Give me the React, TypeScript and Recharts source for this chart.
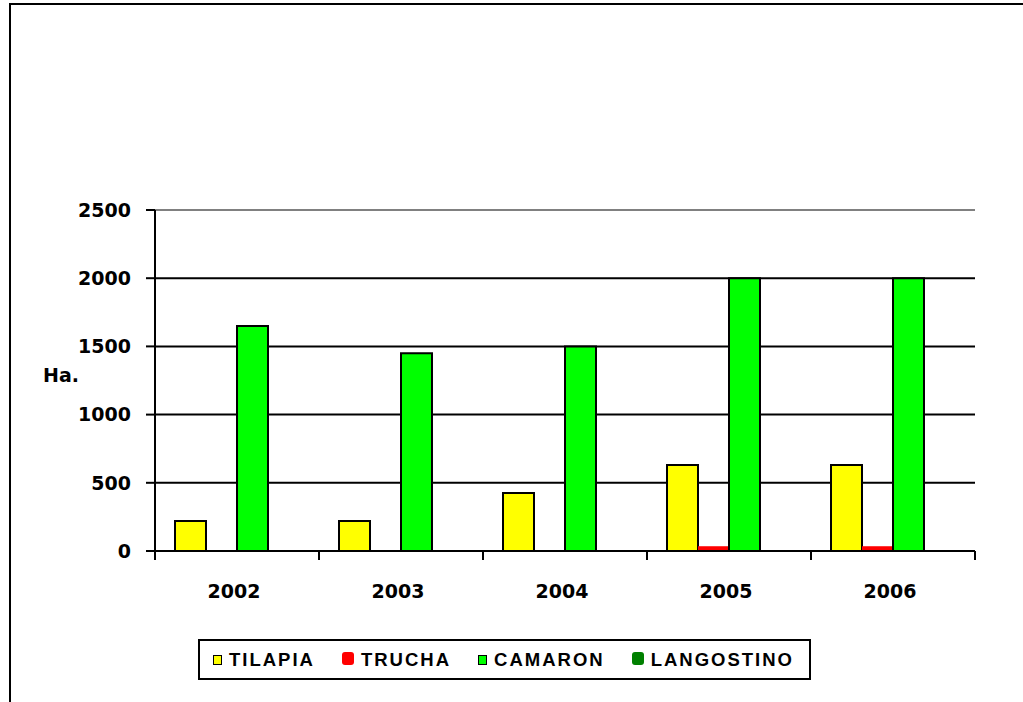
import { BarChart, Bar, XAxis, YAxis, CartesianGrid, ReferenceLine, Legend } from 'recharts';

const years = ['2002', '2003', '2004', '2005', '2006'];
const tilapia = [220, 220, 425, 630, 630];
const trucha = [0, 0, 0, 35, 35];
const camaron = [1650, 1450, 1500, 2000, 2000];
const langostino = [0, 0, 0, 0, 0];
const yTicks = [0, 500, 1000, 1500, 2000, 2500];
const seriesNames = ['TILAPIA', 'TRUCHA', 'CAMARON', 'LANGOSTINO'];

const data = years.map((y, i) => ({
  year: y,
  TILAPIA: tilapia[i],
  TRUCHA: trucha[i],
  CAMARON: camaron[i],
  LANGOSTINO: langostino[i],
}));

const FONT = 'Arial, "Liberation Sans", sans-serif';
const NUM_FONT = '"DejaVu Sans", Verdana, sans-serif';

const swatch: Record<string, React.CSSProperties> = {
  TILAPIA: { width: 7, height: 8, background: '#ffff00', border: '1.5px solid #000' },
  TRUCHA: { width: 12, height: 13, background: '#ff0000', borderRadius: 3, marginTop: -3 },
  CAMARON: { width: 7, height: 8, background: '#00ff00', border: '1.5px solid #000' },
  LANGOSTINO: { width: 12, height: 13, background: '#008000', borderRadius: 3, marginTop: -3 },
};

function YearTick(props: any) {
  const { x, y, payload, index, visibleTicksCount } = props;
  const half = payload.offset || 82;
  return (
    <g>
      <line x1={x - half} y1={y} x2={x - half} y2={y + 9} stroke="#000" strokeWidth={2} />
      {index === visibleTicksCount - 1 && (
        <line x1={x + half} y1={y} x2={x + half} y2={y + 9} stroke="#000" strokeWidth={2} />
      )}
      <text
        x={x - 3}
        y={y + 47}
        textAnchor="middle"
        fill="#000"
        fontSize={19}
        fontWeight={700}
        fontFamily={NUM_FONT}
      >
        {payload.value}
      </text>
    </g>
  );
}

function LegendBox() {
  return (
    <div
      style={{
        boxSizing: 'border-box',
        width: 613,
        height: 41,
        border: '2px solid #000',
        background: '#fff',
        display: 'flex',
        alignItems: 'center',
        paddingLeft: 13,
        fontFamily: FONT,
        fontWeight: 700,
        fontSize: 18.5,
        letterSpacing: 2,
        color: '#000',
      }}
    >
      {seriesNames.map((n) => (
        <div key={n} style={{ display: 'flex', alignItems: 'center', marginRight: 27 }}>
          <div style={{ ...swatch[n], marginRight: 7 }} />
          <span>{n}</span>
        </div>
      ))}
    </div>
  );
}

export default function App() {
  return (
    <div
      style={{
        position: 'absolute',
        left: 0,
        top: 0,
        width: 1023,
        height: 702,
        overflow: 'hidden',
        background: '#fff',
        fontFamily: FONT,
      }}
    >
      <div
        style={{
          position: 'absolute',
          left: 9,
          top: 3,
          width: 1200,
          height: 900,
          border: '2px solid #000',
        }}
      />
      <div style={{ position: 'absolute', left: 0, top: 0 }}>
        <BarChart
          width={1023}
          height={702}
          data={data}
          margin={{ top: 210, right: 48, bottom: 121, left: 95 }}
          barCategoryGap={20}
          barGap={0}
        >
          <CartesianGrid
            vertical={false}
            horizontalValues={[500, 1000, 1500, 2000]}
            stroke="#000"
            strokeWidth={2}
          />
          <ReferenceLine y={2500} stroke="#808080" strokeWidth={2} />
          <XAxis
            dataKey="year"
            height={30}
            axisLine={{ stroke: '#000', strokeWidth: 2 }}
            tickLine={false}
            tickSize={0}
            tickMargin={0}
            tick={<YearTick />}
            interval={0}
          />
          <YAxis
            width={60}
            domain={[0, 2500]}
            ticks={yTicks}
            interval={0}
            axisLine={{ stroke: '#000', strokeWidth: 2 }}
            tickLine={{ stroke: '#000', strokeWidth: 2 }}
            tickSize={9}
            tickMargin={15}
            tick={{ fill: '#000', fontSize: 19, fontWeight: 700, fontFamily: NUM_FONT }}
            label={{
              content: ({ viewBox }: any) => (
                <text
                  x={viewBox.x - 52}
                  y={viewBox.y + viewBox.height / 2 + 1}
                  fill="#000"
                  fontSize={19}
                  fontWeight={700}
                  fontFamily={NUM_FONT}
                >
                  Ha.
                </text>
              ),
            }}
          />
          <YAxis
            yAxisId="right"
            orientation="right"
            width={0}
            tick={false}
            tickLine={false}
            axisLine={{ stroke: '#808080', strokeWidth: 2 }}
          />
          <Legend
            layout="horizontal"
            verticalAlign="middle"
            align="center"
            wrapperStyle={{ left: 198, top: 639, width: 613, height: 41 }}
            content={() => <LegendBox />}
          />
          <Bar dataKey="TILAPIA" fill="#ffff00" stroke="#000" strokeWidth={2} isAnimationActive={false} />
          <Bar dataKey="TRUCHA" fill="#ff0000" isAnimationActive={false} />
          <Bar dataKey="CAMARON" fill="#00ff00" stroke="#000" strokeWidth={2} isAnimationActive={false} />
          <Bar dataKey="LANGOSTINO" fill="#008000" stroke="#000" strokeWidth={2} isAnimationActive={false} />
        </BarChart>
      </div>
    </div>
  );
}
